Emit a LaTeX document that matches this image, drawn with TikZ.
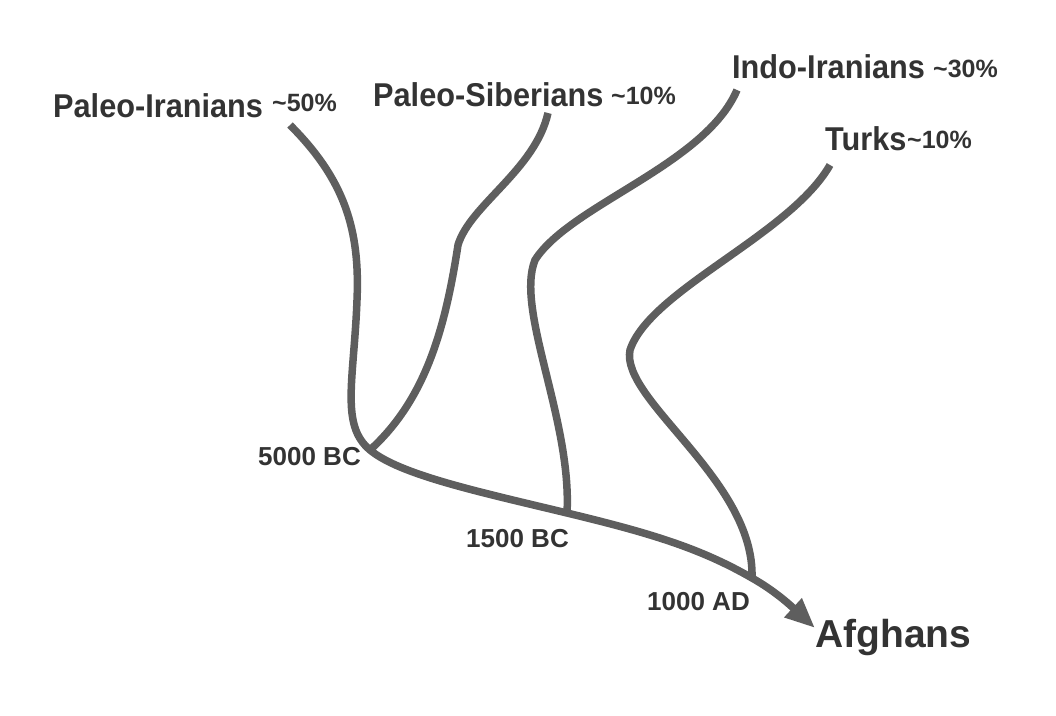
\documentclass[tikz,border=0pt]{standalone}
\usepackage{fontspec}
\setmainfont{Liberation Sans}
\newfontfamily\namefont{Liberation Sans}[FakeStretch=0.93]
\usetikzlibrary{arrows.meta}
\definecolor{txt}{HTML}{333333}
\definecolor{ln}{HTML}{5E5E5E}
\tikzset{
  lbl/.style={inner sep=0pt, text=txt, font=\namefont\bfseries\fontsize{33}{38}\selectfont, anchor=base west},
  pct/.style={inner sep=0pt, text=txt, font=\bfseries\fontsize{25}{29}\selectfont, anchor=base west},
  datel/.style={inner sep=0pt, text=txt, font=\bfseries\fontsize{26}{30}\selectfont, anchor=base west},
  big/.style={inner sep=0pt, text=txt, font=\bfseries\fontsize{39}{45}\selectfont, anchor=base west},
  branch/.style={draw=ln, line width=7.5pt, line cap=butt},
}
\begin{document}
\begin{tikzpicture}[x=1pt,y=-1pt]
\useasboundingbox (0,0) rectangle (1056,715);
% labels
\node[lbl] (piN) at (53,117) {Paleo-Iranians};
\node[pct] (piP) at (272,111) {\textasciitilde50\%};
\node[lbl] (psN) at (373,106) {Paleo-Siberians};
\node[pct] (psP) at (611,104) {\textasciitilde10\%};
\node[lbl] (iiN) at (732,78) {Indo-Iranians};
\node[pct] (iiP) at (933,77) {\textasciitilde30\%};
\node[lbl] (tkN) at (825,150) {Turks};
\node[pct] (tkP) at (907,148) {\textasciitilde10\%};
\node[datel] (d1) at (258,465) {5000 BC};
\node[datel] (d2) at (466,547) {1500 BC};
\node[datel] (d3) at (647,610) {1000 AD};
\node[big] (af) at (815,647) {Afghans};
% path coordinates
\coordinate (pi) at (290,125);
\coordinate (ps) at (548,113);
\coordinate (ii) at (737,90);
\coordinate (tk) at (830,165);
\coordinate (j1) at (370,450);
\coordinate (j2) at (567,513);
\coordinate (j3) at (752,578);
\coordinate (tip) at (815,628);
% branches
\draw[branch] (ps) .. controls (535,170) and (470,205) .. (458,245)
  .. controls (445,330) and (425,400) .. (j1);
\draw[branch] (ii) .. controls (705,165) and (570,205) .. (535,260)
  .. controls (515,310) and (572,420) .. (j2);
\draw[branch] (tk) .. controls (790,235) and (650,290) .. (630,350)
  .. controls (620,400) and (755,480) .. (j3);
% trunk
\draw[branch, -{Triangle[length=30pt,width=24pt]}] (pi)
  .. controls (345,180) and (360,230) .. (357,300)
  .. controls (354,380) and (340,425) .. (j1)
  .. controls (400,475) and (480,492) .. (j2)
  .. controls (650,533) and (700,548) .. (j3)
  .. controls (775,591) and (790,605) .. (tip);
\end{tikzpicture}
\end{document}
